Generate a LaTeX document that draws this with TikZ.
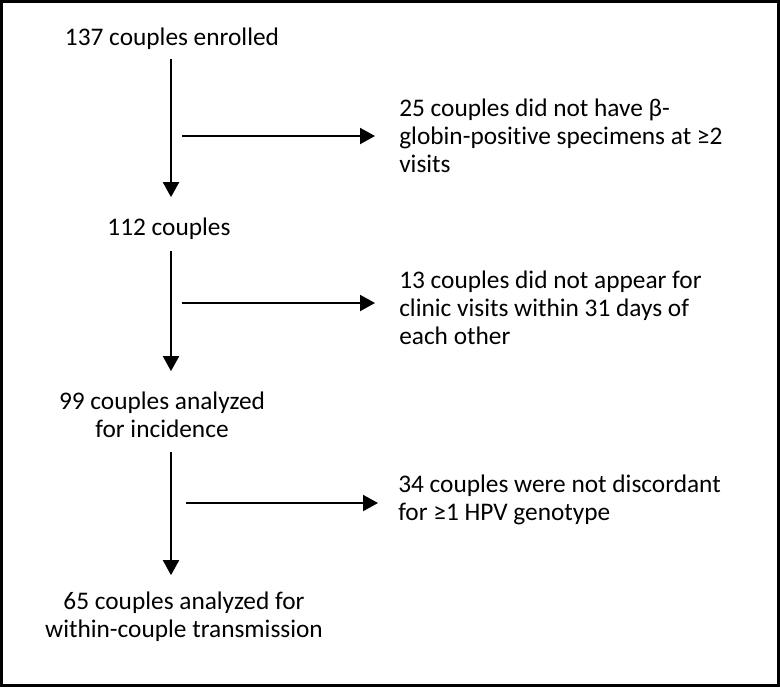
\documentclass[tikz,border=0pt]{standalone}
\usepackage{fontspec}
\setmainfont{Carlito}[Ligatures=NoCommon]
\usetikzlibrary{arrows.meta}

\begin{document}
\begin{tikzpicture}[x=0.75pt, y=-0.75pt,
	flow/.style={-{Triangle[length=11.25pt,width=12pt]}, line width=1.5pt, black},
	txt/.style={inner sep=0pt, black, font=\fontsize{19}{21}\selectfont},
	]
	\useasboundingbox (0,0) rectangle (780,687);

	% Frame
	\draw[line width=2.25pt, black] (1.5,1.5) rectangle (778.5,685.5);

	\coordinate[](spine) at (171,0);

	%% Main stages
	\node[txt, anchor=base] (enr) at (172,45) {137 couples enrolled};
	\node[txt, anchor=base] (c112) at (169,235) {112 couples};
	\node[txt, anchor=base, align=center] (inc) at (162,437) {99 couples analyzed\\for incidence};
	\node[txt, anchor=base, align=center] (trans) at (184,637) {65 couples analyzed for\\within-couple transmission};

	%% Exclusions
	\node[txt, anchor=base west, align=left] (ex1) at (399,172) {25 couples did not have β-\\globin-positive specimens at ≥2\\visits};
	\node[txt, anchor=base west, align=left] (ex2) at (399,344) {13 couples did not appear for\\clinic visits within 31 days of\\each other};
	\node[txt, anchor=base west, align=left] (ex3) at (398,520) {34 couples were not discordant\\for ≥1 HPV genotype};

	%% Arrows down
	\draw[flow, shorten <=7pt, shorten >=15pt] (enr.south -| spine) -- (c112.north -| spine);
	\draw[flow, shorten <=9pt, shorten >=15pt] (c112.south -| spine) -- (inc.north -| spine);
	\draw[flow, shorten <=11pt, shorten >=12pt] (inc.south -| spine) -- (trans.north -| spine);

	%% Arrows right
	\coordinate[](b1) at (182,136);
	\coordinate[](b2) at (182,303);
	\coordinate[](b3) at (186,503);
	\draw[flow, shorten >=18pt] (b1) -- (b1 -| ex1.west);
	\draw[flow, shorten >=18pt] (b2) -- (b2 -| ex2.west);
	\draw[flow, shorten >=15pt] (b3) -- (b3 -| ex3.west);

\end{tikzpicture}
\end{document}
